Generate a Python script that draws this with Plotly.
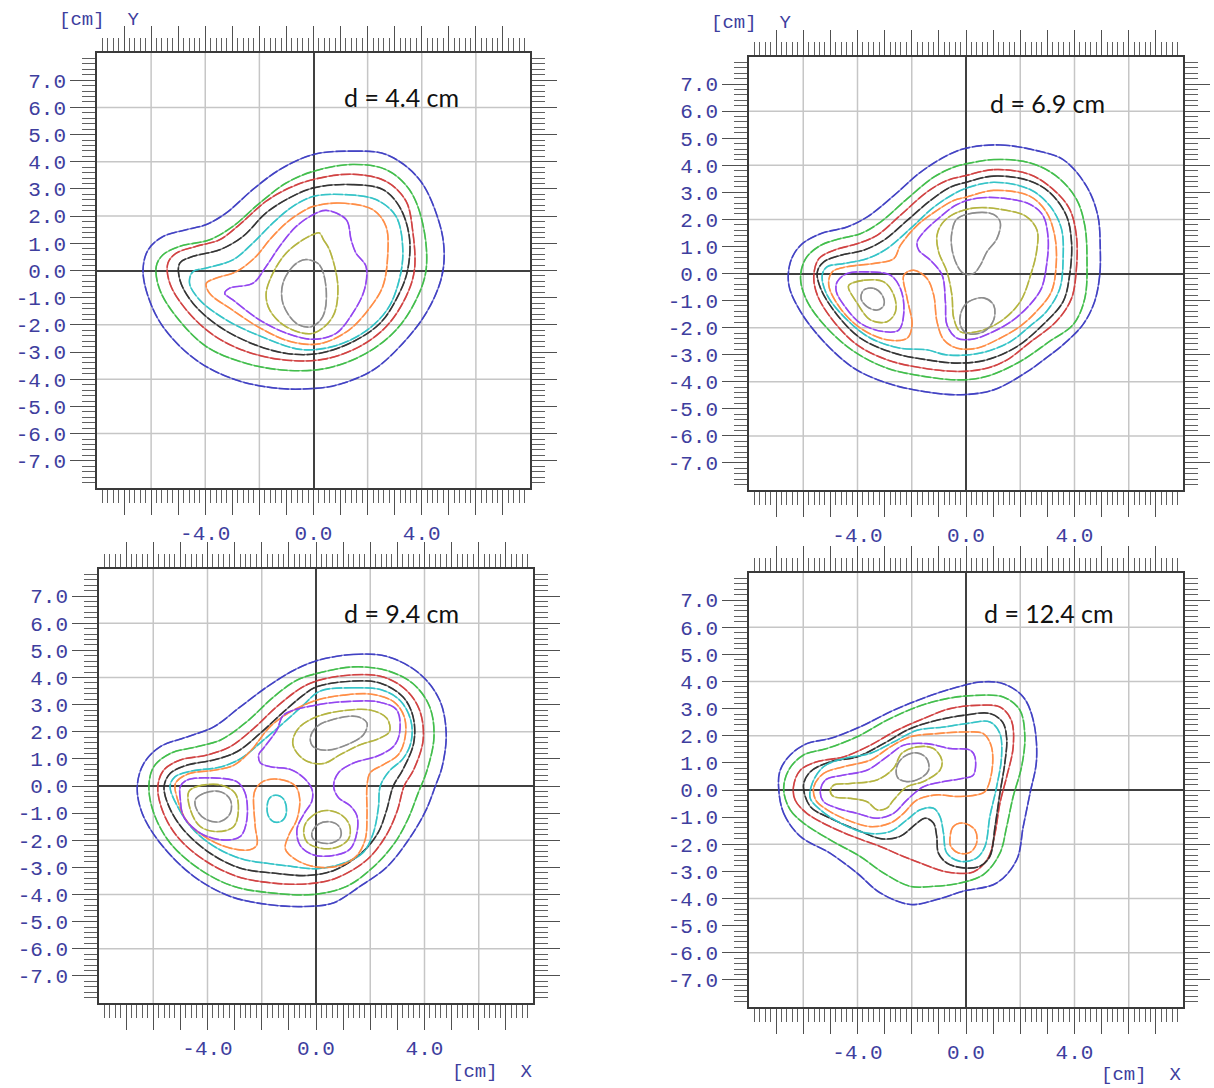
import plotly.graph_objects as go

# ---------------------------------------------------------------------------
# Axis ticks and labels
# ---------------------------------------------------------------------------
MAJOR_TICKS = list(range(-7, 8))
Y_LABELS = [f"{v:.1f}" for v in MAJOR_TICKS]
X_LABELED = [-4, 0, 4]
X_LABELS = [f"{v:.1f}" if v in X_LABELED else "" for v in MAJOR_TICKS]
MINOR_TICKS = [round(k * 0.2, 1) for k in range(-39, 40) if k % 5 != 0]
GRID_VALUES = [-6, -4, -2, 2, 4, 6]

DEPTH_LABELS = ["d = 4.4 cm", "d = 6.9 cm", "d = 9.4 cm", "d = 12.4 cm"]

LEVEL_COLORS = {
    "gray": "#8a8a8a",
    "olive": "#b2b23a",
    "purple": "#9040f0",
    "orange": "#ff8a40",
    "cyan": "#2ec2c6",
    "black": "#2e2e2e",
    "red": "#d03c3c",
    "green": "#3cbc46",
    "blue": "#3c3cc2",
}

# ---------------------------------------------------------------------------
# Isodose lines, depth 4.4 cm  (x, y) in cm
# ---------------------------------------------------------------------------
d44_blue = [(0, 4.27), (1.45, 4.39), (2.68, 4.27), (3.91, 3.35), (4.65, 1.75), (4.83, 0.64),
            (4.71, -0.34), (4.16, -1.57), (3.30, -2.68), (2.19, -3.67), (0.84, -4.22), (0, -4.34),
            (-1.25, -4.34), (-2.85, -4.03), (-4.33, -3.30), (-5.56, -2.07), (-6.11, -0.96),
            (-6.30, 0.02), (-6.11, 0.76), (-5.56, 1.25), (-4.70, 1.50), (-3.96, 1.69),
            (-3.22, 2.12), (-2.24, 2.98), (-1.25, 3.71)]
d44_green = [(0, 3.65), (1.45, 3.90), (2.68, 3.71), (3.54, 2.98), (4.03, 1.75), (4.16, 0.02),
             (3.79, -1.08), (3.05, -2.19), (1.94, -3.05), (0.47, -3.60), (-1.01, -3.67),
             (-2.48, -3.42), (-3.96, -2.80), (-5.07, -1.70), (-5.68, -0.71), (-5.81, 0.15),
             (-5.56, 0.58), (-4.94, 0.89), (-3.84, 1.13), (-2.98, 1.62), (-1.99, 2.48), (-1.01, 3.22)]
d44_red = [(0, 3.35), (1.45, 3.54), (2.68, 3.28), (3.42, 2.55), (3.66, 1.50), (3.73, 0.02),
           (3.42, -0.96), (2.70, -2.05), (1.70, -2.80), (0.40, -3.26), (-1.00, -3.30),
           (-2.48, -2.98), (-3.71, -2.37), (-4.70, -1.45), (-5.31, -0.47), (-5.38, 0.27),
           (-5.07, 0.64), (-4.33, 0.89), (-3.47, 1.13), (-2.73, 1.69), (-1.75, 2.55), (-0.89, 3.04)]
d44_black = [(0, 3.04), (1.45, 3.16), (2.56, 2.98), (3.17, 2.36), (3.54, 1.25), (3.48, 0.02),
             (3.17, -0.84), (2.50, -1.90), (1.50, -2.60), (0.20, -3.05), (-1.00, -3.05),
             (-2.24, -2.70), (-3.47, -2.07), (-4.45, -1.21), (-4.94, -0.34), (-4.94, 0.27),
             (-4.45, 0.52), (-3.47, 0.76), (-2.61, 1.25), (-1.75, 2.12), (-0.89, 2.67)]
d44_cyan = [(0, 2.73), (1.21, 2.79), (2.31, 2.61), (3.05, 1.99), (3.30, 0.76), (3.17, -0.34),
            (2.75, -1.40), (1.90, -2.25), (0.70, -2.80), (-0.50, -2.90), (-2.00, -2.40),
            (-3.22, -1.82), (-4.21, -1.08), (-4.58, -0.47), (-4.45, -0.04), (-3.96, 0.09),
            (-2.98, 0.39), (-2.24, 1.01), (-1.50, 1.75), (-0.76, 2.36)]
d44_orange = [(0, 2.36), (0.96, 2.48), (2.19, 2.24), (2.68, 1.62), (2.74, 0.52), (2.56, -0.59),
              (2.10, -1.35), (1.30, -2.20), (0.20, -2.70), (-0.90, -2.60), (-2.00, -2.10),
              (-3.00, -1.45), (-3.84, -0.84), (-3.96, -0.47), (-3.59, -0.28), (-2.85, -0.04),
              (-2.12, 0.52), (-1.62, 1.13), (-1.01, 1.75), (-0.39, 2.18)]
d44_purple = [(0.47, 2.21), (1.21, 1.87), (1.39, 1.13), (1.57, 0.64), (1.94, 0.15), (1.88, -0.71),
              (1.45, -1.57), (0.84, -2.31), (-0.02, -2.53), (-1.01, -2.30), (-1.99, -1.82),
              (-2.98, -1.08), (-3.28, -0.84), (-3.10, -0.65), (-2.24, -0.47), (-1.75, 0.15),
              (-1.25, 0.89), (-0.64, 1.62), (-0.02, 2.05)]
d44_olive = [(0.22, 1.38), (0.37, 1.13), (0.59, 0.76), (0.90, -0.59), (0.71, -1.70), (-0.02, -2.31),
             (-1.01, -2.07), (-1.62, -1.45), (-1.75, -0.84), (-1.50, -0.10), (-1.01, 0.64),
             (-0.39, 1.13), (-0.02, 1.32)]
d44_gray = [(-0.15, 0.39), (0.22, 0.21), (0.47, -0.71), (0.34, -1.70), (-0.09, -2.07),
            (-0.64, -1.94), (-1.13, -1.21), (-1.13, -0.47), (-0.76, 0.15), (-0.39, 0.39)]

# ---------------------------------------------------------------------------
# Isodose lines, depth 6.9 cm
# ---------------------------------------------------------------------------
d69_blue = [(0, 4.63), (1.26, 4.75), (2.61, 4.54), (3.58, 4.21), (4.44, 3.23), (4.86, 2.14),
            (4.95, 0.92), (4.93, -0.06), (4.74, -1.04), (4.31, -1.89), (3.58, -2.63),
            (2.97, -3.11), (2.30, -3.60), (1.02, -4.30), (-0.21, -4.48), (-1.56, -4.36),
            (-2.91, -4.05), (-4.13, -3.50), (-5.24, -2.52), (-6.10, -1.41), (-6.53, -0.43),
            (-6.47, 0.43), (-6.10, 1.04), (-5.36, 1.47), (-4.38, 1.72), (-3.64, 2.09),
            (-2.66, 2.88), (-1.68, 3.74), (-0.70, 4.36)]
d69_green = [(0, 4.05), (1.02, 4.21), (2.35, 4.09), (3.33, 3.60), (4.07, 2.75), (4.38, 1.77),
             (4.46, 0.55), (4.38, -0.92), (3.95, -1.89), (3.09, -2.50), (2.00, -3.25),
             (0.77, -3.80), (-0.21, -3.93), (-1.56, -3.80), (-2.91, -3.50), (-4.13, -2.88),
             (-5.12, -2.02), (-5.85, -1.04), (-6.10, -0.18), (-5.91, 0.55), (-5.36, 1.04),
             (-4.63, 1.29), (-3.89, 1.47), (-3.15, 1.90), (-2.17, 2.76), (-1.19, 3.56), (-0.45, 3.93)]
d69_red = [(0, 3.62), (1.02, 3.84), (2.35, 3.66), (3.21, 3.11), (3.82, 2.38), (4.07, 1.40),
           (4.07, 0.18), (3.89, -0.92), (3.33, -1.77), (2.35, -2.55), (1.50, -3.20),
           (0.77, -3.50), (-0.21, -3.62), (-1.56, -3.50), (-2.91, -3.19), (-4.01, -2.64),
           (-4.87, -1.78), (-5.48, -0.80), (-5.61, -0.06), (-5.42, 0.55), (-4.87, 0.86),
           (-4.01, 1.10), (-3.28, 1.41), (-2.42, 2.15), (-1.44, 3.01), (-0.70, 3.44)]
d69_black = [(0, 3.37), (1.02, 3.60), (2.35, 3.42), (3.09, 2.99), (3.70, 2.14), (3.89, 1.16),
             (3.82, -0.06), (3.58, -1.04), (2.84, -1.89), (1.88, -2.70), (0.77, -3.19),
             (-0.33, -3.31), (-1.44, -3.19), (-2.66, -2.94), (-3.89, -2.39), (-4.75, -1.53),
             (-5.36, -0.55), (-5.48, 0.06), (-5.24, 0.43), (-4.63, 0.67), (-3.77, 0.86),
             (-3.03, 1.23), (-2.17, 1.96), (-1.31, 2.70), (-0.58, 3.19)]
d69_cyan = [(0, 3.15), (1.02, 3.37), (2.35, 3.11), (3.09, 2.50), (3.52, 1.65), (3.58, 0.55),
            (3.46, -0.55), (2.97, -1.40), (2.35, -1.95), (1.63, -2.52), (0.53, -2.94),
            (-0.70, -3.01), (-1.44, -2.82), (-2.42, -2.76), (-3.52, -2.39), (-4.38, -1.72),
            (-5.12, -0.80), (-5.30, -0.06), (-5.12, 0.25), (-4.50, 0.37), (-3.64, 0.55),
            (-2.91, 0.92), (-2.05, 1.66), (-1.19, 2.45), (-0.45, 2.94)]
d69_orange = [(0, 2.82), (1.02, 3.07), (2.35, 2.86), (2.97, 2.26), (3.27, 1.40), (3.33, 0.43),
              (3.15, -0.67), (2.60, -1.40), (2.00, -1.95), (1.26, -2.39), (0.40, -2.76),
              (-0.33, -2.76), (-0.82, -2.45), (-1.07, -1.78), (-1.19, -0.80), (-1.44, -0.18),
              (-1.93, 0.12), (-2.29, -0.06), (-2.17, -0.92), (-1.99, -1.90), (-2.17, -2.39),
              (-2.91, -2.45), (-3.89, -2.02), (-4.63, -1.29), (-5.06, -0.43), (-4.93, 0.06),
              (-4.38, 0.25), (-3.40, 0.37), (-2.66, 0.55), (-2.42, 1.04), (-1.80, 1.78),
              (-1.07, 2.33), (-0.45, 2.70)]
d69_purple_main = [(-0.33, 2.55), (0.40, 2.78), (1.40, 2.78), (2.35, 2.56), (2.84, 2.14),
                   (3.03, 1.28), (2.97, 0.31), (2.78, -0.55), (2.35, -1.16), (1.70, -1.75),
                   (1.00, -2.15), (0.28, -2.42), (-0.33, -2.39), (-0.70, -1.90), (-0.76, -1.04),
                   (-0.88, -0.06), (-1.31, 0.49), (-1.74, 0.86), (-1.80, 1.17), (-1.56, 1.53),
                   (-0.94, 2.10)]
d69_purple_left = [(-4.75, -0.31), (-4.38, 0.00), (-3.64, 0.06), (-2.79, -0.06), (-2.42, -0.55),
                   (-2.29, -1.41), (-2.48, -2.09), (-3.03, -2.15), (-3.89, -1.84), (-4.50, -1.17),
                   (-4.78, -0.67)]
d69_olive_main = [(-0.45, 2.20), (0.40, 2.43), (1.40, 2.35), (2.20, 2.12), (2.62, 1.60),
                  (2.60, 0.80), (2.40, 0.00), (2.00, -1.04), (1.26, -1.78), (0.40, -2.15),
                  (-0.21, -2.15), (-0.45, -1.66), (-0.52, -0.80), (-0.70, 0.06), (-1.01, 0.80),
                  (-1.07, 1.41), (-0.88, 1.85)]
d69_olive_left = [(-4.32, -0.43), (-3.77, -0.25), (-3.03, -0.31), (-2.66, -0.80), (-2.60, -1.41),
                  (-2.91, -1.78), (-3.52, -1.72), (-4.05, -1.04), (-4.33, -0.55)]
d69_gray_top = [(-0.33, 2.02), (0.40, 2.25), (1.02, 2.18), (1.26, 1.90), (1.14, 1.29),
                (0.77, 0.80), (0.53, 0.31), (0.28, 0.00), (-0.09, 0.00), (-0.33, 0.31),
                (-0.52, 0.92), (-0.52, 1.53)]
d69_gray_bottom = [(0.10, -1.04), (0.65, -0.90), (1.02, -1.17), (1.02, -1.72), (0.65, -2.15),
                   (0.04, -2.21), (-0.21, -1.90), (-0.15, -1.35)]
d69_gray_left = [(-3.77, -0.61), (-3.40, -0.55), (-3.09, -0.80), (-3.03, -1.17), (-3.28, -1.35),
                 (-3.64, -1.23), (-3.87, -0.92)]

# ---------------------------------------------------------------------------
# Isodose lines, depth 9.4 cm
# ---------------------------------------------------------------------------
d94_blue = [(0, 4.61), (1.37, 4.85), (2.60, 4.78), (3.82, 4.14), (4.56, 3.16), (4.80, 1.94),
            (4.65, 0.71), (4.40, 0.00), (4.05, -0.90), (3.40, -2.00), (2.60, -3.00),
            (1.62, -3.70), (0.64, -4.31), (-0.34, -4.44), (-1.69, -4.38), (-3.16, -4.07),
            (-4.51, -3.33), (-5.74, -2.11), (-6.41, -1.00), (-6.59, -0.02), (-6.35, 0.83),
            (-5.74, 1.45), (-4.75, 1.81), (-3.77, 2.18), (-2.79, 2.92), (-1.81, 3.65), (-0.83, 4.26)]
d94_green = [(0, 4.14), (1.37, 4.39), (2.60, 4.26), (3.58, 3.77), (4.19, 2.92), (4.35, 1.81),
             (4.10, 0.60), (3.75, -0.30), (3.40, -1.20), (2.90, -2.10), (2.10, -3.00),
             (1.13, -3.70), (-0.10, -4.00), (-1.57, -3.95), (-3.04, -3.70), (-4.26, -3.09),
             (-5.37, -2.11), (-5.98, -1.00), (-6.16, -0.02), (-5.98, 0.71), (-5.37, 1.20),
             (-4.39, 1.45), (-3.53, 1.69), (-2.55, 2.37), (-1.57, 3.28), (-0.71, 3.90)]
d94_red = [(0, 3.87), (1.37, 4.10), (2.48, 4.02), (3.33, 3.53), (3.82, 2.79), (3.95, 1.69),
           (3.60, 0.60), (3.25, 0.00), (3.00, -0.90), (2.60, -1.80), (1.90, -2.70),
           (0.76, -3.39), (-0.22, -3.60), (-1.57, -3.58), (-2.92, -3.33), (-4.14, -2.72),
           (-5.12, -1.86), (-5.67, -0.88), (-5.83, -0.02), (-5.61, 0.59), (-5.00, 0.96),
           (-4.02, 1.14), (-3.16, 1.45), (-2.30, 2.12), (-1.45, 2.92), (-0.59, 3.59)]
d94_black = [(0, 3.65), (1.37, 3.87), (2.35, 3.80), (3.21, 3.28), (3.58, 2.55), (3.60, 1.57),
             (3.20, 0.60), (2.85, 0.00), (2.60, -0.90), (2.30, -1.70), (1.70, -2.45),
             (0.64, -3.12), (-0.34, -3.30), (-1.57, -3.21), (-2.79, -3.03), (-3.90, -2.48),
             (-4.88, -1.62), (-5.42, -0.76), (-5.60, -0.02), (-5.37, 0.47), (-4.75, 0.77),
             (-3.77, 0.96), (-2.92, 1.26), (-2.06, 1.94), (-1.20, 2.73), (-0.47, 3.35)]
d94_cyan = [(0.15, 3.50), (1.37, 3.62), (2.40, 3.55), (3.10, 3.15), (3.50, 2.40), (3.50, 1.60),
            (3.20, 1.00), (2.70, 0.55), (2.37, 0.00), (2.30, -0.80), (2.12, -1.71),
            (1.75, -2.44), (1.00, -2.85), (0.00, -3.05), (-1.00, -2.95), (-1.80, -2.85),
            (-2.70, -2.70), (-3.65, -2.29), (-4.51, -1.62), (-5.10, -0.76), (-5.38, -0.02),
            (-5.20, 0.34), (-4.60, 0.55), (-3.53, 0.70), (-2.79, 1.00), (-1.94, 1.69),
            (-1.08, 2.43), (-0.47, 2.98)]
d94_cyan_valley = [(-1.74, -0.49), (-1.50, -0.34), (-1.19, -0.49), (-1.09, -0.98), (-1.25, -1.28),
                   (-1.56, -1.32), (-1.78, -1.04)]
d94_orange = [(0.04, 3.17), (1.02, 3.35), (2.00, 3.39), (2.86, 3.11), (3.25, 2.56), (3.29, 1.83),
              (3.04, 1.16), (2.49, 0.79), (2.00, 0.49), (1.88, 0.00), (1.88, -1.10),
              (1.82, -1.95), (1.51, -2.56), (0.90, -2.93), (0.04, -2.99), (-0.70, -2.74),
              (-1.13, -2.32), (-1.01, -1.83), (-0.70, -1.22), (-0.60, -0.49), (-0.76, 0.00),
              (-1.31, 0.24), (-1.93, 0.18), (-2.23, -0.12), (-2.30, -0.39), (-2.24, -1.50),
              (-2.18, -2.17), (-2.43, -2.35), (-3.16, -2.29), (-4.02, -1.92), (-4.75, -1.31),
              (-5.10, -0.51), (-5.18, 0.10), (-4.70, 0.45), (-3.77, 0.58), (-3.04, 0.76),
              (-2.42, 1.28), (-1.68, 2.20), (-0.82, 2.80)]
d94_purple_main = [(-1.19, 2.62), (0.04, 2.99), (1.26, 3.12), (2.30, 3.10), (2.98, 2.80),
                   (3.08, 1.95), (2.86, 1.46), (2.25, 1.10), (1.39, 0.85), (0.83, 0.49),
                   (0.65, 0.00), (0.83, -0.43), (1.26, -0.73), (1.51, -1.10), (1.51, -1.71),
                   (1.26, -2.32), (0.65, -2.56), (-0.09, -2.54), (-0.58, -2.20), (-0.70, -1.59),
                   (-0.45, -1.04), (-0.15, -0.55), (-0.15, -0.12), (-0.45, 0.30), (-0.94, 0.61),
                   (-1.68, 0.71), (-2.05, 0.85), (-2.11, 1.16), (-1.93, 1.40), (-1.44, 2.07)]
d94_purple_left = [(-5.00, -0.02), (-4.75, 0.22), (-3.90, 0.30), (-2.92, 0.16), (-2.61, -0.27),
                   (-2.55, -1.25), (-2.79, -1.86), (-3.41, -1.99), (-4.26, -1.74), (-4.88, -1.13),
                   (-5.00, -0.51)]
d94_olive_top = [(-0.82, 1.83), (-0.58, 2.20), (0.04, 2.56), (1.02, 2.78), (2.00, 2.80),
                 (2.61, 2.50), (2.71, 2.01), (2.37, 1.77), (1.63, 1.52), (0.90, 1.16),
                 (0.28, 0.83), (-0.33, 0.91), (-0.70, 1.22), (-0.85, 1.52)]
d94_olive_left = [(-4.69, -0.21), (-4.39, -0.02), (-3.53, 0.04), (-2.98, -0.27), (-2.86, -0.88),
                  (-3.04, -1.50), (-3.65, -1.68), (-4.26, -1.50), (-4.63, -0.88)]
d94_olive_low = [(-0.45, -1.59), (-0.27, -1.22), (0.28, -0.91), (0.90, -1.04), (1.24, -1.46),
                 (1.20, -1.95), (0.77, -2.26), (0.16, -2.29), (-0.33, -2.07)]
d94_gray_top = [(-0.21, 1.77), (0.04, 2.20), (0.65, 2.46), (1.51, 2.56), (1.88, 2.32),
                (1.75, 1.89), (1.14, 1.52), (0.40, 1.32), (-0.09, 1.44)]
d94_gray_left = [(-4.45, -0.51), (-4.14, -0.27), (-3.53, -0.21), (-3.16, -0.51), (-3.16, -1.00),
                 (-3.53, -1.31), (-4.02, -1.25), (-4.36, -0.94)]
d94_gray_low = [(-0.15, -1.71), (0.10, -1.40), (0.53, -1.32), (0.87, -1.52), (0.90, -1.89),
                (0.59, -2.10), (0.10, -2.07), (-0.12, -1.93)]

# ---------------------------------------------------------------------------
# Isodose lines, depth 12.4 cm
# ---------------------------------------------------------------------------
d124_blue = [(-6.91, 0.12), (-6.72, -0.86), (-6.11, -1.71), (-5.01, -2.33), (-4.02, -3.06),
             (-3.17, -3.79), (-2.06, -4.22), (-1.08, -4.04), (-0.10, -3.73), (1.13, -3.43),
             (1.87, -2.57), (2.11, -1.35), (2.36, -0.12), (2.60, 1.10), (2.48, 2.57),
             (2.11, 3.43), (1.37, 3.92), (0.52, 3.98), (-0.34, 3.79), (-1.45, 3.43),
             (-2.67, 2.94), (-3.90, 2.33), (-5.01, 1.90), (-5.87, 1.71), (-6.48, 1.29), (-6.85, 0.73)]
d124_green = [(-6.72, 0.00), (-6.48, -0.73), (-5.99, -1.22), (-5.01, -1.84), (-3.90, -2.45),
              (-3.04, -3.06), (-2.06, -3.55), (-1.20, -3.55), (-0.22, -3.43), (0.64, -3.12),
              (1.25, -2.33), (1.50, -1.35), (1.74, -0.24), (2.05, 0.86), (2.17, 1.96),
              (1.99, 2.94), (1.37, 3.43), (0.39, 3.49), (-0.71, 3.37), (-1.82, 3.06),
              (-2.92, 2.57), (-4.02, 1.96), (-5.13, 1.53), (-5.99, 1.29), (-6.54, 0.73)]
d124_red = [(-6.36, 0.12), (-6.30, -0.37), (-5.87, -0.86), (-5.01, -1.35), (-4.02, -1.77),
            (-3.17, -2.08), (-2.31, -2.45), (-1.69, -2.69), (-0.71, -3.02), (0.27, -3.02),
            (0.82, -2.50), (1.07, -1.59), (1.25, -0.49), (1.50, 0.49), (1.74, 1.59),
            (1.67, 2.57), (1.25, 3.06), (0.39, 3.12), (-0.59, 3.00), (-1.57, 2.63),
            (-2.55, 2.20), (-3.53, 1.65), (-4.52, 1.22), (-5.50, 1.04), (-6.11, 0.73)]
d124_black = [(-5.99, 0.18), (-5.74, 0.67), (-5.01, 1.04), (-4.02, 1.22), (-3.04, 1.71),
              (-2.06, 2.26), (-1.08, 2.57), (-0.10, 2.75), (0.88, 2.82), (1.35, 2.50),
              (1.50, 1.90), (1.43, 0.98), (1.25, -0.12), (1.07, -1.35), (0.88, -2.45),
              (0.51, -2.81), (-0.10, -2.87), (-0.71, -2.69), (-1.02, -2.32), (-1.08, -1.71),
              (-1.20, -1.22), (-1.51, -1.04), (-1.81, -1.22), (-2.43, -1.71), (-3.10, -1.80),
              (-4.02, -1.47), (-5.01, -1.04), (-5.74, -0.61)]
d124_cyan = [(-5.67, 0.24), (-5.25, 0.86), (-4.51, 1.16), (-3.53, 1.35), (-2.67, 1.77),
             (-1.81, 2.20), (-0.83, 2.32), (0.02, 2.45), (0.88, 2.51), (1.25, 2.08),
             (1.31, 1.22), (1.13, 0.12), (0.88, -0.98), (0.70, -2.08), (0.39, -2.51),
             (-0.22, -2.63), (-0.71, -2.32), (-0.83, -1.59), (-0.96, -0.98), (-1.20, -0.67),
             (-1.69, -0.73), (-2.18, -1.10), (-2.79, -1.53), (-3.65, -1.59), (-4.63, -1.22),
             (-5.37, -0.73), (-5.74, -0.31)]
d124_orange_main = [(-5.61, 0.12), (-5.25, 0.61), (-4.51, 0.86), (-3.53, 1.10), (-2.79, 1.59),
                    (-2.06, 1.96), (-1.08, 2.08), (0.02, 2.14), (0.64, 2.08), (0.94, 1.59),
                    (0.94, 0.61), (0.70, -0.06), (0.39, -0.18), (-0.34, -0.24), (-1.08, -0.18),
                    (-1.81, -0.37), (-2.30, -0.86), (-2.79, -1.22), (-3.53, -1.35), (-4.39, -1.10),
                    (-5.12, -0.73), (-5.54, -0.37)]
d124_orange_low = [(-0.59, -1.77), (-0.47, -1.35), (-0.10, -1.22), (0.33, -1.47), (0.39, -1.96),
                   (0.15, -2.30), (-0.28, -2.32), (-0.56, -2.08)]
d124_purple = [(-5.37, -0.06), (-5.18, 0.37), (-4.51, 0.55), (-3.65, 0.73), (-2.92, 1.22),
               (-2.30, 1.65), (-1.45, 1.71), (-0.59, 1.53), (0.15, 1.47), (0.33, 1.22),
               (0.27, 0.55), (-0.10, 0.43), (-0.83, 0.31), (-1.57, 0.12), (-2.18, -0.37),
               (-2.67, -0.86), (-3.28, -1.04), (-4.02, -0.86), (-4.75, -0.67), (-5.25, -0.43)]
d124_olive = [(-5.00, -0.06), (-4.88, 0.18), (-4.26, 0.24), (-3.28, 0.37), (-2.67, 0.80),
              (-2.37, 1.35), (-1.81, 1.59), (-1.20, 1.53), (-0.89, 1.10), (-0.96, 0.73),
              (-1.57, 0.31), (-2.18, 0.12), (-2.67, -0.37), (-2.92, -0.67), (-3.28, -0.73),
              (-3.65, -0.43), (-4.26, -0.31), (-4.88, -0.24)]
d124_gray = [(-2.55, 0.86), (-2.30, 1.22), (-1.81, 1.37), (-1.45, 1.16), (-1.38, 0.73),
             (-1.69, 0.43), (-2.18, 0.31), (-2.52, 0.46)]

PANEL_LINES = [
    [(d44_blue, "blue"), (d44_green, "green"), (d44_red, "red"), (d44_black, "black"),
     (d44_cyan, "cyan"), (d44_orange, "orange"), (d44_purple, "purple"),
     (d44_olive, "olive"), (d44_gray, "gray")],
    [(d69_blue, "blue"), (d69_green, "green"), (d69_red, "red"), (d69_black, "black"),
     (d69_cyan, "cyan"), (d69_orange, "orange"), (d69_purple_main, "purple"),
     (d69_purple_left, "purple"), (d69_olive_main, "olive"), (d69_olive_left, "olive"),
     (d69_gray_top, "gray"), (d69_gray_bottom, "gray"), (d69_gray_left, "gray")],
    [(d94_blue, "blue"), (d94_green, "green"), (d94_red, "red"), (d94_black, "black"),
     (d94_cyan, "cyan"), (d94_cyan_valley, "cyan"), (d94_orange, "orange"),
     (d94_purple_main, "purple"), (d94_purple_left, "purple"), (d94_olive_top, "olive"),
     (d94_olive_left, "olive"), (d94_olive_low, "olive"), (d94_gray_top, "gray"),
     (d94_gray_left, "gray"), (d94_gray_low, "gray")],
    [(d124_blue, "blue"), (d124_green, "green"), (d124_red, "red"), (d124_black, "black"),
     (d124_cyan, "cyan"), (d124_orange_main, "orange"), (d124_orange_low, "orange"),
     (d124_purple, "purple"), (d124_olive, "olive"), (d124_gray, "gray")],
]

# ---------------------------------------------------------------------------
# Page geometry (pixels): plot frame of each panel as left, top, right, bottom
# ---------------------------------------------------------------------------
W, H = 1214, 1088
FRAMES = [(97, 53, 530, 488), (749, 57, 1183, 490), (99, 569, 533, 1003), (749, 573, 1183, 1007)]
LABEL_BLUE = "#3e3e9e"
MONO = "Liberation Mono, DejaVu Sans Mono, monospace"

fig = go.Figure()

for i, (frame, lines) in enumerate(zip(FRAMES, PANEL_LINES), start=1):
    sfx = "" if i == 1 else str(i)
    for pts, level in lines:
        xs = [p[0] for p in pts] + [pts[0][0]]
        ys = [p[1] for p in pts] + [pts[0][1]]
        color = LEVEL_COLORS[level]
        # continuous stroke under a finely broken stroke of the same isodose
        fig.add_trace(go.Scatter(
            x=xs, y=ys, mode="lines", xaxis="x" + sfx, yaxis="y" + sfx, opacity=0.7,
            line=dict(color=color, width=1.3, shape="spline", smoothing=1.0),
            hoverinfo="skip", showlegend=False,
        ))
        fig.add_trace(go.Scatter(
            x=xs, y=ys, mode="lines", xaxis="x" + sfx, yaxis="y" + sfx, opacity=0.9,
            line=dict(color=color, width=1.6, shape="spline", smoothing=1.0, dash="10px,2px"),
            hoverinfo="skip", showlegend=False,
        ))

    left, top, right, bottom = frame
    common = dict(
        range=[-8, 8], tickmode="array", tickvals=MAJOR_TICKS,
        ticks="outside", ticklen=25, tickwidth=1.3, tickcolor="#505050",
        showline=True, linecolor="#3a3a3a", linewidth=1.5, mirror="ticks",
        showgrid=False, zeroline=True, zerolinecolor="#404040", zerolinewidth=1.5,
        minor=dict(tickmode="array", tickvals=MINOR_TICKS, ticks="outside", ticklen=13,
                   tickwidth=1.1, tickcolor="#606060", showgrid=False),
        tickfont=dict(family=MONO, size=21, color=LABEL_BLUE),
        fixedrange=True,
    )
    fig.update_layout({
        "xaxis" + sfx: dict(common, domain=[left / W, right / W], anchor="y" + sfx,
                           ticktext=X_LABELS),
        "yaxis" + sfx: dict(common, domain=[1 - bottom / H, 1 - top / H], anchor="x" + sfx,
                           ticktext=Y_LABELS),
    })

    # 2 cm grid
    for v in GRID_VALUES:
        fig.add_shape(type="line", x0=v, x1=v, y0=-8, y1=8, xref="x" + sfx, yref="y" + sfx,
                      line=dict(color="#c6c6c6", width=1.5), layer="below")
        fig.add_shape(type="line", x0=-8, x1=8, y0=v, y1=v, xref="x" + sfx, yref="y" + sfx,
                      line=dict(color="#c6c6c6", width=1.5), layer="below")

# Depth captions
CAPTION_POS = [(342, 97), (988, 103), (342, 613), (982, 613)]
for text, (px, py) in zip(DEPTH_LABELS, CAPTION_POS):
    fig.add_annotation(text=text, x=px / W, y=1 - py / H, xref="paper", yref="paper",
                       xanchor="left", yanchor="middle", showarrow=False,
                       font=dict(family="Lato, Open Sans, sans-serif", size=25, color="#111111"))

# Axis unit captions
UNIT_POS = [("[cm]  Y", 57, 20), ("[cm]  Y", 709, 23), ("[cm]  X", 450, 1072), ("[cm]  X", 1099, 1075)]
for text, px, py in UNIT_POS:
    fig.add_annotation(text=text, x=px / W, y=1 - py / H, xref="paper", yref="paper",
                       xanchor="left", yanchor="middle", showarrow=False,
                       font=dict(family=MONO, size=19, color=LABEL_BLUE))

fig.update_layout(
    width=W, height=H, margin=dict(l=0, r=0, t=0, b=0),
    paper_bgcolor="white", plot_bgcolor="white",
)

fig.write_html("out.html")
